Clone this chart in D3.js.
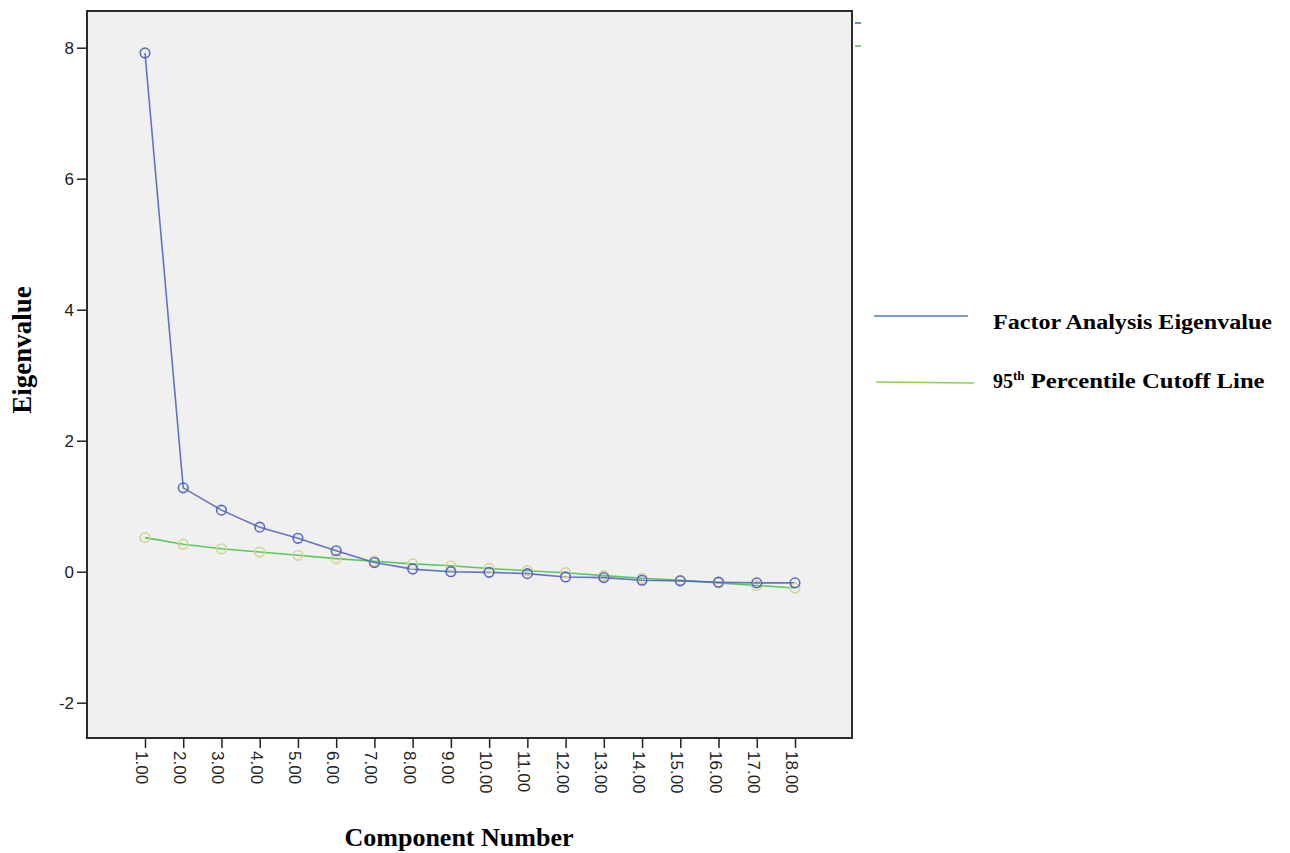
<!DOCTYPE html>
<html>
<head>
<meta charset="utf-8">
<script src="https://cdn.jsdelivr.net/npm/d3@7"></script>
<style>
  body { margin: 0; background: #fff; }
  svg { display: block; }
</style>
</head>
<body>
<svg id="chart" width="1290" height="853"></svg>
<script>
// component numbers 1..18
var components = [1,2,3,4,5,6,7,8,9,10,11,12,13,14,15,16,17,18];
var tickLabels = components.map(function(c){ return c.toFixed(2); });
var eigenValues = [7.92,1.28,0.94,0.68,0.51,0.32,0.14,0.04,0.00,-0.01,-0.03,-0.08,-0.09,-0.13,-0.14,-0.16,-0.17,-0.17];
var cutoffValues = [0.52,0.42,0.35,0.30,0.25,0.20,0.16,0.12,0.09,0.05,0.015,-0.015,-0.06,-0.10,-0.13,-0.17,-0.21,-0.25];
var yTicks = [-2,0,2,4,6,8];

var svg = d3.select("#chart");

var frame = {left: 87, top: 11, right: 852, bottom: 738};

var x = d3.scaleLinear().domain([1, 18]).range([145, 795]);
var y = d3.scaleLinear().domain([0, 8]).range([571.7, 47.7]);

// plot background
svg.append("rect")
  .attr("x", frame.left).attr("y", frame.top)
  .attr("width", frame.right - frame.left)
  .attr("height", frame.bottom - frame.top)
  .attr("fill", "#f0f0f0")
  .attr("stroke", "#2b2b2b")
  .attr("stroke-width", 2);

// y axis
var yAxis = d3.axisLeft(y).tickValues(yTicks).tickSize(10).tickPadding(3).tickFormat(function(d){ return String(d); });
var gy = svg.append("g").attr("transform", "translate(" + frame.left + ",0)").call(yAxis);
gy.select(".domain").remove();
gy.selectAll("line").attr("stroke", "#222").attr("stroke-width", 1.5);
gy.selectAll("text")
  .attr("font-family", "Arial, 'Liberation Sans', sans-serif")
  .attr("font-size", 17).attr("fill", "#222");

// x axis
var xAxis = d3.axisBottom(x).tickValues(components).tickSize(10).tickFormat(function(d,i){ return tickLabels[i]; });
var gx = svg.append("g").attr("transform", "translate(0," + frame.bottom + ")").call(xAxis);
gx.select(".domain").remove();
gx.selectAll("line").attr("stroke", "#222").attr("stroke-width", 1.5);
gx.selectAll("text")
  .attr("font-family", "Arial, 'Liberation Sans', sans-serif")
  .attr("font-size", 17).attr("fill", "#222")
  .attr("text-anchor", "start")
  .attr("dy", null)
  .attr("y", 0)
  .attr("transform", "translate(-5,13) rotate(90)")
  .attr("dominant-baseline", "middle");

var line = d3.line()
  .x(function(d,i){ return x(components[i]); })
  .y(function(d){ return y(d); });

// cutoff series
svg.append("path").datum(cutoffValues)
  .attr("d", line).attr("fill", "none")
  .attr("stroke", "#3ec23e").attr("stroke-width", 1.6).attr("opacity", 0.85);

// eigenvalue series
svg.append("path").datum(eigenValues)
  .attr("d", line).attr("fill", "none")
  .attr("stroke", "#4a5cc0").attr("stroke-width", 1.6).attr("opacity", 0.85);

svg.selectAll(".cut").data(cutoffValues).enter().append("circle")
  .attr("cx", function(d,i){ return x(components[i]); })
  .attr("cy", function(d){ return y(d); })
  .attr("r", 4.8).attr("fill", "none")
  .attr("stroke", "#d6d194").attr("stroke-width", 1.6);

svg.selectAll(".eig").data(eigenValues).enter().append("circle")
  .attr("cx", function(d,i){ return x(components[i]); })
  .attr("cy", function(d){ return y(d); })
  .attr("r", 4.8).attr("fill", "none")
  .attr("stroke", "#4a5cc0").attr("stroke-width", 1.6).attr("opacity", 0.9);

// leftover legend stubs next to frame
svg.append("line").attr("x1", 855).attr("x2", 861).attr("y1", 23).attr("y2", 23)
  .attr("stroke", "#6f86cc").attr("stroke-width", 2);
svg.append("line").attr("x1", 855).attr("x2", 861).attr("y1", 46).attr("y2", 46)
  .attr("stroke", "#7fd08a").attr("stroke-width", 2);

// axis titles
svg.append("text")
  .attr("x", 459).attr("y", 846)
  .attr("text-anchor", "middle")
  .attr("font-family", "'Liberation Serif', 'Times New Roman', serif")
  .attr("font-weight", "bold").attr("font-size", 26)
  .text("Component Number");

svg.append("text")
  .attr("transform", "translate(31,350) rotate(-90)")
  .attr("text-anchor", "middle")
  .attr("font-family", "'Liberation Serif', 'Times New Roman', serif")
  .attr("font-weight", "bold").attr("font-size", 27)
  .text("Eigenvalue");

// legend
svg.append("line").attr("x1", 874).attr("x2", 968).attr("y1", 316).attr("y2", 316)
  .attr("stroke", "#4a7cc0").attr("stroke-width", 1.6);
svg.append("line").attr("x1", 876).attr("x2", 974).attr("y1", 382).attr("y2", 383)
  .attr("stroke", "#8ccf4c").attr("stroke-width", 1.6);

svg.append("text")
  .attr("x", 993).attr("y", 329)
  .attr("font-family", "'Liberation Serif', 'Times New Roman', serif")
  .attr("font-weight", "bold").attr("font-size", 20)
  .attr("textLength", 279).attr("lengthAdjust", "spacingAndGlyphs")
  .text("Factor Analysis Eigenvalue");

var leg2 = svg.append("text")
  .attr("x", 993).attr("y", 388)
  .attr("font-family", "'Liberation Serif', 'Times New Roman', serif")
  .attr("font-weight", "bold").attr("font-size", 20);
leg2.append("tspan").text("95");
leg2.append("tspan").attr("font-size", 13).attr("dy", -8).text("th");
leg2.append("tspan").attr("dy", 8).attr("textLength", 240).attr("lengthAdjust", "spacingAndGlyphs")
  .text(" Percentile Cutoff Line");
</script>
</body>
</html>
